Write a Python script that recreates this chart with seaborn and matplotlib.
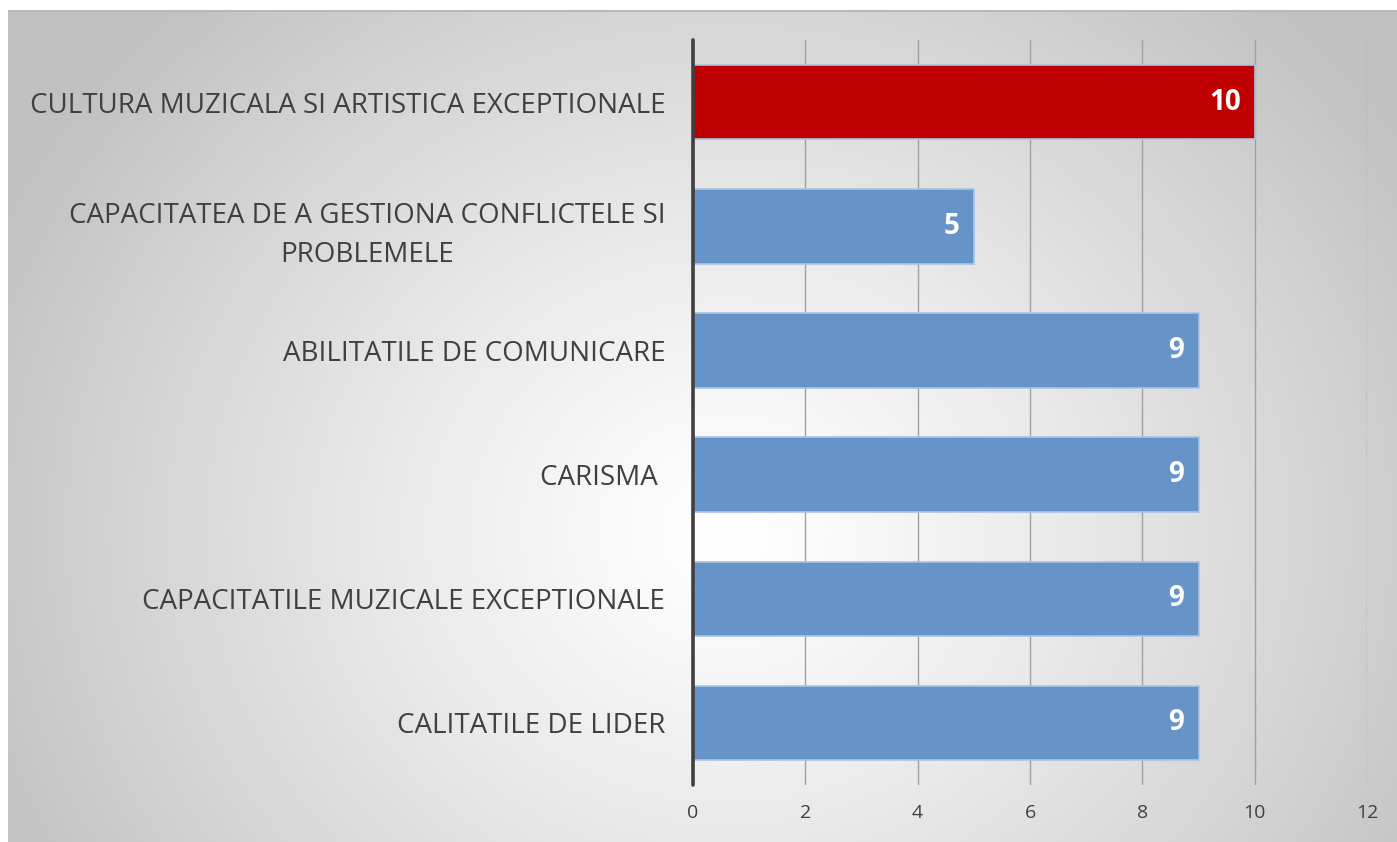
import numpy as np
import pandas as pd
import matplotlib
matplotlib.use("Agg")
import matplotlib.pyplot as plt
import seaborn as sns

categories = ["CULTURA MUZICALA SI ARTISTICA EXCEPTIONALE",
              "CAPACITATEA DE A GESTIONA CONFLICTELE SI\nPROBLEMELE",
              "ABILITATILE DE COMUNICARE",
              "CARISMA ",
              "CAPACITATILE MUZICALE EXCEPTIONALE",
              "CALITATILE DE LIDER"]
values = [10, 5, 9, 9, 9, 9]
bar_colors = ["#c00000", "#6794c8", "#6794c8", "#6794c8", "#6794c8", "#6794c8"]
xticks = [0, 2, 4, 6, 8, 10, 12]

df = pd.DataFrame({"item": categories, "score": values})

sns.set_theme(style="white")
plt.rcParams["font.family"] = ["Liberation Sans Narrow", "Open Sans", "DejaVu Sans"]

fig = plt.figure(figsize=(13.97, 8.42), dpi=100)

# grey panel with radial white glow
bg = fig.add_axes([8 / 1397, 0, 1 - 8 / 1397, 1 - 10 / 842], zorder=0)
h, w = 832, 1389
yy, xx = np.mgrid[0:h, 0:w]
d = np.sqrt(((xx - 720) / 1.0) ** 2 + ((yy - 520) / 0.9) ** 2)
lum = 1.0 - 0.24 * np.clip(d / 800, 0, 1) ** 1.2
bg.imshow(np.dstack([lum, lum, lum]), aspect="auto", extent=[0, 1, 0, 1])
bg.set_xticks([])
bg.set_yticks([])
for s in bg.spines.values():
    s.set_visible(False)
bg.axhline(1, color="#b8b8b8", lw=2)

ax = fig.add_axes([693 / 1397, 1 - 785 / 842, (1367 - 693) / 1397, (785 - 40) / 842], zorder=1)
ax.patch.set_alpha(0)
sns.barplot(data=df, x="score", y="item", orient="h", width=0.6,
            palette=bar_colors, hue="item", legend=False, saturation=1,
            edgecolor="#a9c4e6", linewidth=1.2, ax=ax, zorder=3)

ax.set_xlim(0, 12)
ax.set_ylim(5.5, -0.5)
ax.set_xticks(xticks)
ax.set_xticklabels([str(t) for t in xticks], fontsize=14, color="#404040")
ax.tick_params(axis="x", length=0, pad=14)
ax.tick_params(axis="y", length=0, pad=20)
for lbl in ax.get_yticklabels():
    lbl.set_fontsize(20)
    lbl.set_color("#404040")
    lbl.set_multialignment("center")
    lbl.set_linespacing(1.55)
ax.set_xlabel("")
ax.set_ylabel("")
ax.grid(axis="x", color="#a0a0a0", lw=1, zorder=0)
ax.set_axisbelow(True)
for s in ax.spines.values():
    s.set_visible(False)
ax.axvline(0, color="#404040", lw=2.6, zorder=5, clip_on=False)

for i, v in enumerate(values):
    ax.text(v - 0.25, i, str(v), ha="right", va="center", color="white",
            fontsize=20, fontweight="bold", zorder=6)

fig.savefig("out.png", dpi=100)
